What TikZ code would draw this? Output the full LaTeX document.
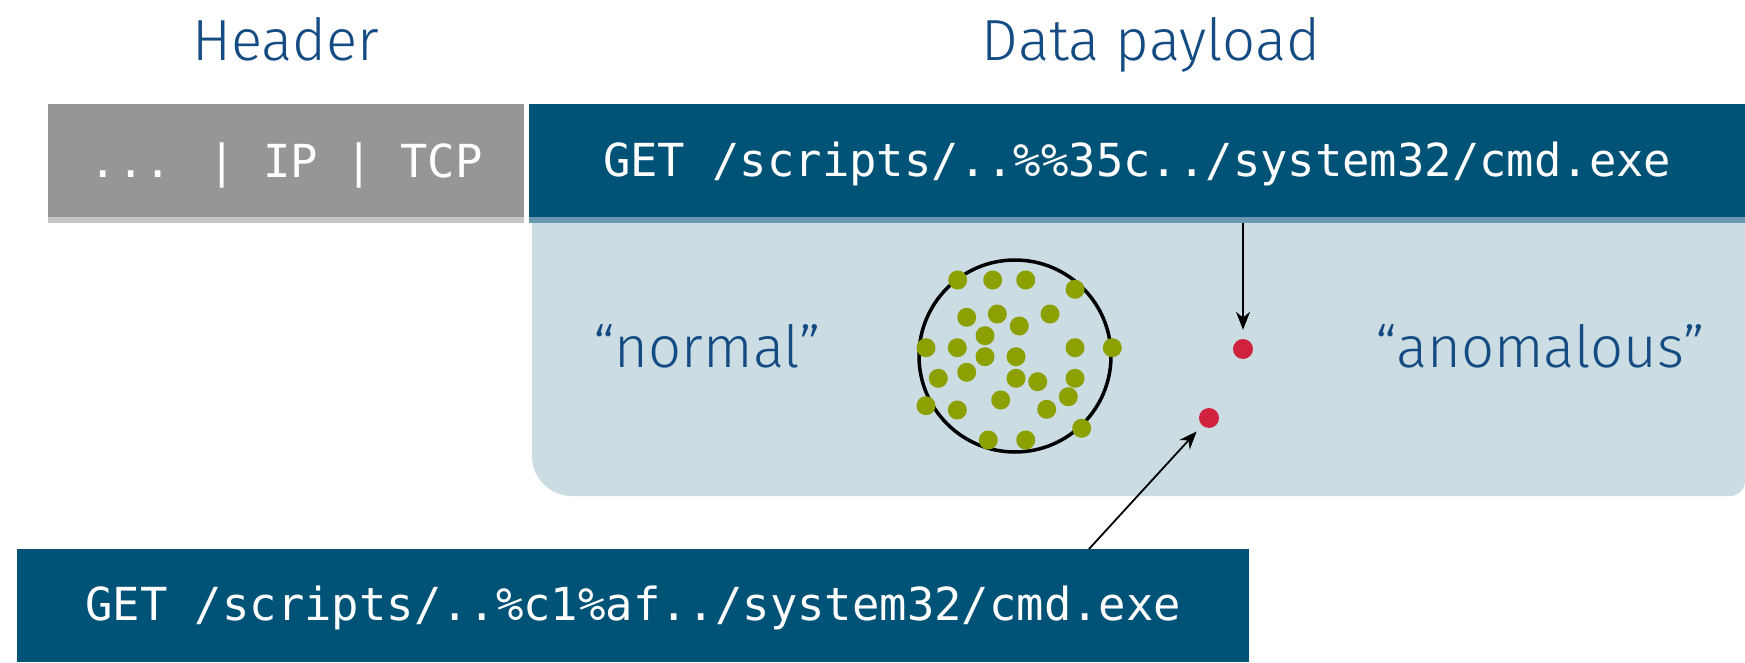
\documentclass[tikz,border=0pt]{standalone}
\usepackage{fontspec}
\setmainfont{Fira Sans}[UprightFont={* Light}]
\newfontfamily\monof{DejaVu Sans Mono}
\usetikzlibrary{arrows.meta}
\definecolor{darkblue}{RGB}{0,82,118}
\definecolor{stripblue}{RGB}{106,152,174}
\definecolor{hdrgray}{RGB}{150,150,150}
\definecolor{stripgray}{RGB}{198,198,198}
\definecolor{paleblue}{RGB}{203,220,227}
\definecolor{txtblue}{RGB}{20,75,130}
\definecolor{dotgreen}{RGB}{140,161,0}
\definecolor{dotred}{RGB}{208,33,63}
\tikzset{
  monotext/.style={text=white, font=\monof\fontsize{45.5}{50}\selectfont, inner sep=0pt, anchor=north west},
  title/.style={text=txtblue, font=\fontsize{58}{68}\selectfont, inner sep=0pt, anchor=base},
  gdot/.style={circle, fill=dotgreen, inner sep=0pt, minimum size=19pt},
  rdot/.style={circle, fill=dotred, inner sep=0pt, minimum size=20pt},
  pointer/.style={draw=black, -{Stealth[length=18pt,width=14pt]}},
}
\begin{document}
\begin{tikzpicture}[x=1pt,y=-1pt]
\useasboundingbox (0,0) rectangle (1745,663);
% titles
\node[title] (thead) at (286,61) {Header};
\node[title] (tdata) at (1151,61) {Data payload};
% pale region
\fill[paleblue] (532,223) -- (1745,223) -- (1745,481)
  arc[start angle=0,end angle=90,radius=15] -- (572,496)
  arc[start angle=90,end angle=180,radius=40] -- cycle;
% header box
\node[monotext, fill=hdrgray, minimum width=476pt, text height=73pt, text depth=40pt] (hdr) at (48,104) {... | IP | TCP};
\fill[stripgray] (48,217) rectangle (524,223);
% payload box
\node[monotext, fill=darkblue, minimum width=1216pt, text height=72pt, text depth=41pt] (pay) at (529,104) {GET /scripts/..\%\%35c../system32/cmd.exe};
\fill[stripblue] (529,217) rectangle (1745,223);
% labels
\node[title] (lnorm) at (707,367) {“normal”};
\node[title] (lanom) at (1540,367) {“anomalous”};
% cluster
\node[circle, draw=black, line width=3.5pt, inner sep=0pt, minimum size=192pt] (clu) at (1015,356) {};
\foreach \i/\p in {1/{957.7,280},2/{992.7,280},3/{1025.7,280},4/{1075,289.3},
  5/{966.7,317.3},6/{997.3,314},7/{1019.3,326},8/{1050,314},9/{985,335.7},
  10/{926,347.7},11/{957.3,347.7},12/{985,356.7},13/{1016,356.7},14/{1075,347.7},
  15/{1112.3,347.7},16/{938.3,378.3},17/{966.7,372.3},18/{1016,378.3},19/{1037.7,381.7},
  20/{1075,378.3},21/{926,405.7},22/{957.3,410},23/{1000.7,400},24/{1068.3,396.7},
  25/{1046.7,409.3},26/{1081.7,428.3},27/{988.3,440},28/{1025.7,440}}
  \node[gdot] (g\i) at (\p) {};
% anomalies
\node[rdot] (r1) at (1243,349) {};
\node[rdot] (r2) at (1209,418) {};
% bottom box
\node[monotext, fill=darkblue, minimum width=1232pt, text height=71pt, text depth=42pt] (bot) at (17,549) {GET /scripts/..\%c1\%af../system32/cmd.exe};
% arrows
\coordinate (a1) at (1243,223);
\coordinate (a2) at (1089,549);
\draw[pointer, line width=2pt, shorten >=9pt] (a1) -- (r1);
\draw[pointer, line width=1.8pt, shorten >=8pt] (a2) -- (r2);
\end{tikzpicture}
\end{document}
